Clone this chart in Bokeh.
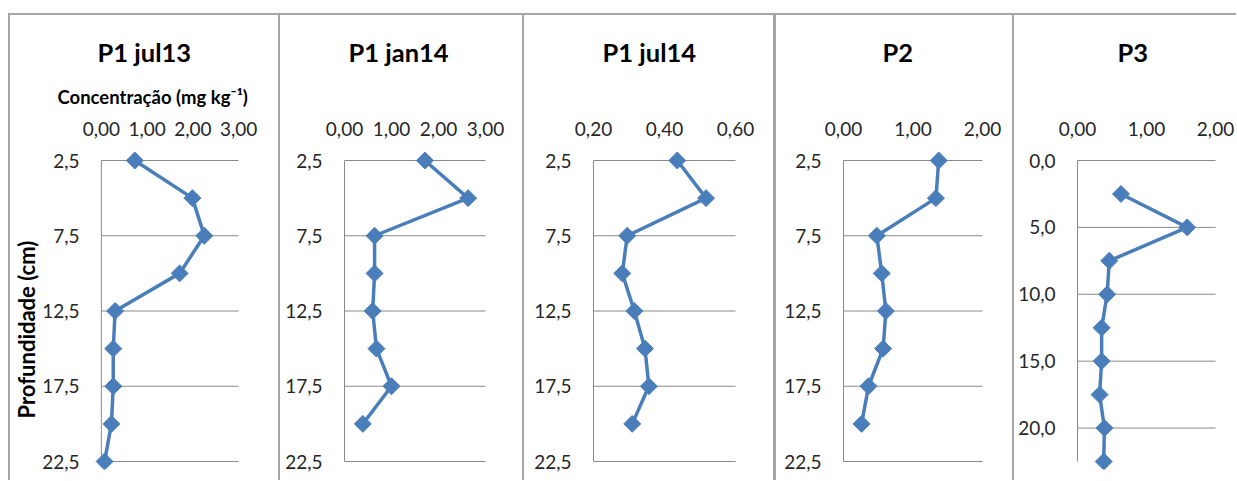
import numpy as np
from bokeh.plotting import figure
from bokeh.models import Range1d, FixedTicker, CustomJSTickFormatter, Title, Spacer
from bokeh.layouts import row, column
from bokeh.embed import file_html
from bokeh.resources import INLINE

# ---------------- data ----------------
titles = ["P1 jul13", "P1 jan14", "P1 jul14", "P2", "P3"]

depth_p1_jul13 = [2.5, 5, 7.5, 10, 12.5, 15, 17.5, 20, 22.5]
conc_p1_jul13 = [0.73, 1.99, 2.25, 1.71, 0.30, 0.26, 0.26, 0.22, 0.07]

depth_p1_jan14 = [2.5, 5, 7.5, 10, 12.5, 15, 17.5, 20]
conc_p1_jan14 = [1.71, 2.63, 0.64, 0.64, 0.60, 0.68, 1.00, 0.39]

depth_p1_jul14 = [2.5, 5, 7.5, 10, 12.5, 15, 17.5, 20]
conc_p1_jul14 = [0.436, 0.517, 0.295, 0.281, 0.315, 0.345, 0.356, 0.309]

depth_p2 = [2.5, 5, 7.5, 10, 12.5, 15, 17.5, 20]
conc_p2 = [1.37, 1.33, 0.48, 0.55, 0.61, 0.57, 0.36, 0.26]

depth_p3 = [2.5, 5, 7.5, 10, 12.5, 15, 17.5, 20, 22.5]
conc_p3 = [0.63, 1.59, 0.46, 0.43, 0.35, 0.35, 0.32, 0.39, 0.38]

x_ticks_0_3 = [0, 1, 2, 3]
x_ticks_02_06 = [0.2, 0.4, 0.6]
x_ticks_0_2 = [0, 1, 2]
y_ticks_p1 = [2.5, 7.5, 12.5, 17.5, 22.5]
y_ticks_p3 = [0, 5, 10, 15, 20]

x_label = "Concentração (mg kg⁻¹)"
y_label = "Profundidade (cm)"

# ---------------- styling / layout (page pixels) ----------------
BLUE = "#4a7ebb"
GRID = "#8a8a8a"
BORDER = "#a6a6a6"
FONT = "Lato"

TOP_GAP, LEFT_GAP = 13, 8
BAR_H = 2
CONTENT_TOP = TOP_GAP + BAR_H   # 15
H = 465
DATA_TOP, DATA_BOTTOM = 160, 461
PAD_T, PAD_B, PAD_X = 10, 8, 10

panels = [
    dict(t=titles[0], d=depth_p1_jul13, c=conc_p1_jul13, xt=x_ticks_0_3, yt=y_ticks_p1,
         yb=22.5, yt0=2.5, bw=2, cl=10, cr=278, dl=99, dr=238, tl=95),
    dict(t=titles[1], d=depth_p1_jan14, c=conc_p1_jan14, xt=x_ticks_0_3, yt=y_ticks_p1,
         yb=22.5, yt0=2.5, bw=2, cl=280, cr=522, dl=344, dr=485, tl=348),
    dict(t=titles[2], d=depth_p1_jul14, c=conc_p1_jul14, xt=x_ticks_02_06, yt=y_ticks_p1,
         yb=22.5, yt0=2.5, bw=2, cl=524, cr=773, dl=593, dr=735, tl=602),
    dict(t=titles[3], d=depth_p2, c=conc_p2, xt=x_ticks_0_2, yt=y_ticks_p1,
         yb=22.5, yt0=2.5, bw=3, cl=776, cr=1012, dl=843, dr=982, tl=882),
    dict(t=titles[4], d=depth_p3, c=conc_p3, xt=x_ticks_0_2, yt=y_ticks_p3,
         yb=22.5, yt0=0.0, bw=2, cl=1014, cr=1236, dl=1077, dr=1215, tl=1117),
]

children = [Spacer(width=LEFT_GAP, height=H)]
for i, pn in enumerate(panels):
    xmin, xmax = pn["xt"][0], pn["xt"][-1]
    ytop, ybot = pn["yt0"], pn["yb"]
    width = pn["cr"] - pn["cl"]
    frame_left = pn["dl"] - PAD_X
    frame_right = pn["dr"] + PAD_X
    sx = (pn["dr"] - pn["dl"]) / (xmax - xmin)
    sy = (DATA_BOTTOM - DATA_TOP) / (ybot - ytop)
    x_range = Range1d(xmin - PAD_X / sx, xmax + PAD_X / sx)
    y_range = Range1d(ybot + PAD_B / sy, ytop - PAD_T / sy)

    p = figure(width=width, height=H, x_range=x_range, y_range=y_range,
               x_axis_location="above", output_backend="svg", toolbar_location=None,
               min_border_left=frame_left - pn["cl"],
               min_border_right=pn["cr"] - frame_right,
               min_border_top=(DATA_TOP - PAD_T) - CONTENT_TOP,
               min_border_bottom=(CONTENT_TOP + H) - (DATA_BOTTOM + PAD_B),
               title=pn["t"])
    p.outline_line_color = None
    p.background_fill_color = "white"
    p.border_fill_color = "white"
    p.xgrid.visible = False
    p.ygrid.visible = False

    for ax in (p.xaxis[0], p.yaxis[0]):
        ax.axis_line_color = None
        ax.major_tick_line_color = None
        ax.minor_tick_line_color = None
        ax.major_label_text_font = FONT
        ax.major_label_text_font_size = "19px"
        ax.major_label_text_color = "#262626"
    p.xaxis.ticker = FixedTicker(ticks=pn["xt"])
    p.yaxis.ticker = FixedTicker(ticks=pn["yt"])
    p.xaxis.formatter = CustomJSTickFormatter(code="return tick.toFixed(2).replace('.', ',');")
    p.yaxis.formatter = CustomJSTickFormatter(code="return tick.toFixed(1).replace('.', ',');")
    p.xaxis.major_label_standoff = 9
    p.yaxis.major_label_standoff = 6

    # gridlines and vertical axis line
    n = len(pn["yt"])
    p.segment(x0=[xmin] * n, y0=pn["yt"], x1=[xmax] * n, y1=pn["yt"],
              line_color=GRID, line_width=1)
    p.segment(x0=[xmin], y0=[ytop], x1=[xmin], y1=[ybot], line_color=GRID, line_width=1)

    # data
    p.line(pn["c"], pn["d"], line_color=BLUE, line_width=3.5)
    p.scatter(pn["c"], pn["d"], marker="square", angle=np.pi / 4, size=12,
              fill_color=BLUE, line_color=BLUE)

    # sub-title (axis label of first panel, blank spacer in the others)
    p.add_layout(Title(text=x_label if i == 0 else " ", align="left",
                       offset=55 - frame_left, text_font=FONT,
                       text_font_size="18.5px", text_font_style="bold",
                       text_color="black", standoff=22), "above")
    if i == 0:
        p.add_layout(Title(text=y_label, align="left", offset=(DATA_BOTTOM + PAD_B) - 418,
                           text_font=FONT, text_font_size="22px", text_font_style="bold",
                           text_color="black", standoff=0), "left")
    p.title.align = "left"
    p.title.offset = pn["tl"] - frame_left
    p.title.standoff = 12
    p.title.text_font = FONT
    p.title.text_font_size = "25.5px"
    p.title.text_font_style = "bold"
    p.title.text_color = "black"

    children.append(Spacer(width=pn["bw"], height=H, styles={"background-color": BORDER}))
    children.append(p)

top_bar = row(Spacer(width=LEFT_GAP, height=BAR_H),
              Spacer(width=1236 - LEFT_GAP, height=BAR_H, styles={"background-color": BORDER}))
layout = column(Spacer(width=10, height=TOP_GAP), top_bar, row(*children))
open("out.html", "w").write(file_html(layout, INLINE))
